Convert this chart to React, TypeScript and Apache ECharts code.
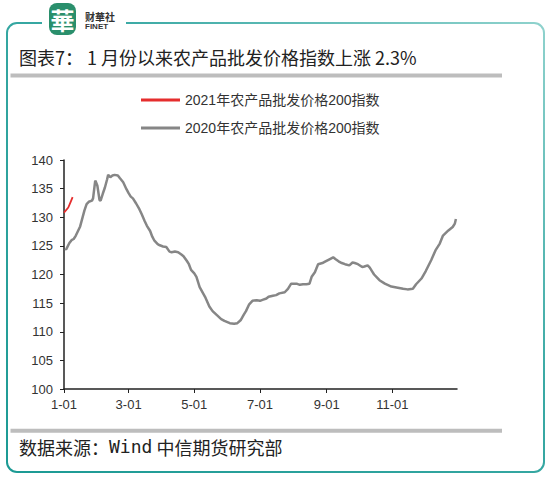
import React, { useEffect, useRef } from "react";
import * as echarts from "echarts";

const titleText = "图表7： 1 月份以来农产品批发价格指数上涨 2.3%";
const sourceLabel = "数据来源：";
const sourceWind = "Wind";
const sourceRest = " 中信期货研究部";
const seriesNames = ["2021年农产品批发价格200指数", "2020年农产品批发价格200指数"];
const xTickLabels = ["1-01", "3-01", "5-01", "7-01", "9-01", "11-01"];
const yTicks = [100, 105, 110, 115, 120, 125, 130, 135, 140];

const dates2021 = ["1-01", "1-05", "1-07", "1-09"];
const values2021 = [130.8, 131.7, 132.6, 133.5];

const dates2020 = [
  "1-02", "1-03", "1-06", "1-08", "1-10", "1-12", "1-14", "1-16", "1-18", "1-20",
  "1-22", "1-24", "1-27", "1-28", "1-30", "1-31", "2-01", "2-03", "2-04", "2-06",
  "2-08", "2-10", "2-11", "2-13", "2-15", "2-17", "2-20", "2-22", "2-25", "2-28",
  "3-01", "3-03", "3-05", "3-08", "3-11", "3-13", "3-16", "3-18", "3-21", "3-23",
  "3-25", "3-28", "3-30", "4-02", "4-05", "4-08", "4-10", "4-13", "4-16", "4-19",
  "4-21", "4-24", "4-26", "4-28", "5-01", "5-03", "5-06", "5-11", "5-15", "5-18",
  "5-22", "5-26", "5-29", "6-03", "6-07", "6-10", "6-13", "6-16", "6-18", "6-21",
  "6-24", "6-28", "7-01", "7-04", "7-07", "7-09", "7-13", "7-16", "7-19", "7-24",
  "7-27", "7-30", "8-04", "8-07", "8-10", "8-13", "8-16", "8-18", "8-21", "8-24",
  "8-28", "8-30", "9-04", "9-07", "9-09", "9-12", "9-15", "9-18", "9-22", "9-25",
  "9-27", "9-30", "10-04", "10-06", "10-09", "10-11", "10-13", "10-15", "10-18", "10-20",
  "10-25", "10-31", "11-06", "11-11", "11-15", "11-20", "11-23", "11-28", "12-02", "12-07",
  "12-11", "12-15", "12-18", "12-23", "12-27", "12-29", "12-30",
];
const values2020 = [
  124.5, 124.4, 125.5, 126.0, 126.2, 126.8, 127.6, 128.4, 129.8, 131.2,
  132.3, 132.7, 132.9, 133.3, 136.4, 136.0, 135.5, 133.0, 132.9, 134.1,
  135.2, 136.6, 137.4, 137.0, 137.3, 137.4, 137.3, 136.8, 136.1, 134.9,
  134.2, 133.6, 133.3, 132.4, 131.4, 130.6, 129.3, 128.5, 127.6, 126.6,
  125.9, 125.3, 125.1, 124.9, 124.8, 124.0, 123.9, 124.0, 123.9, 123.5,
  123.2, 122.4, 121.8, 120.8, 120.2, 119.6, 117.8, 116.1, 114.4, 113.6,
  112.9, 112.2, 111.9, 111.5, 111.4, 111.5, 112.0, 113.0, 113.6, 114.8,
  115.4, 115.5, 115.4, 115.6, 115.8, 116.1, 116.3, 116.4, 116.7, 116.9,
  117.5, 118.4, 118.4, 118.2, 118.3, 118.3, 118.4, 119.6, 120.4, 121.8,
  122.0, 122.2, 122.7, 123.0, 122.7, 122.3, 122.0, 121.8, 121.6, 122.1,
  122.0, 121.8, 121.3, 121.4, 121.6, 121.2, 120.6, 120.0, 119.4, 119.0,
  118.4, 117.9, 117.7, 117.5, 117.4, 117.5, 118.3, 119.3, 120.6, 122.5,
  124.2, 125.4, 126.8, 127.7, 128.3, 128.9, 129.7,
];

const monthLengths = [31, 29, 31, 30, 31, 30, 31, 31, 30, 31, 30, 31];

export default function App() {
  const ref = useRef<HTMLDivElement>(null);
  useEffect(() => {
    if (!ref.current) return;
    const chart = echarts.init(ref.current, undefined, { renderer: "svg" });
    const categories: string[] = [];
    monthLengths.forEach((n, i) => {
      for (let d = 1; d <= n; d++) categories.push(`${i + 1}-${String(d).padStart(2, "0")}`);
    });
    const showTick = (_i: number, v: string) => xTickLabels.includes(v);
    const cjk = '"Noto Sans CJK SC", sans-serif';
    const latin = '"Liberation Sans", "Noto Sans CJK SC", sans-serif';

    chart.setOption({
      animation: false,
      backgroundColor: "#ffffff",
      legend: {
        orient: "vertical",
        left: 141,
        top: 93,
        padding: 0,
        itemWidth: 39,
        itemHeight: 3,
        itemGap: 14,
        icon: "rect",
        data: seriesNames,
        textStyle: { fontSize: 14, color: "#333", fontFamily: latin },
      },
      grid: { left: 64, right: 97, top: 160, bottom: 89 },
      xAxis: {
        type: "category",
        data: categories,
        boundaryGap: false,
        axisLine: { lineStyle: { color: "#222", width: 1.5 } },
        axisTick: { interval: showTick, length: 4, lineStyle: { color: "#222" } },
        axisLabel: {
          interval: showTick,
          margin: 9,
          fontSize: 13,
          color: "#333",
          fontFamily: latin,
        },
        splitLine: { show: false },
      },
      yAxis: {
        type: "value",
        min: yTicks[0],
        max: yTicks[yTicks.length - 1],
        interval: 5,
        axisLine: { show: true, lineStyle: { color: "#222", width: 1.5 } },
        axisTick: { show: true, length: 4, lineStyle: { color: "#222" } },
        axisLabel: { margin: 11, fontSize: 13, color: "#333", fontFamily: latin },
        splitLine: { show: false },
      },
      series: [
        {
          name: seriesNames[0],
          type: "line",
          data: dates2021.map((d, i) => [d, values2021[i]]),
          showSymbol: false,
          symbol: "none",
          lineStyle: { color: "#e52d2d", width: 1.8 },
          itemStyle: { color: "#e52d2d" },
          z: 3,
        },
        {
          name: seriesNames[1],
          type: "line",
          data: dates2020.map((d, i) => [d, values2020[i]]),
          showSymbol: false,
          symbol: "none",
          lineStyle: { color: "#868686", width: 2.5 },
          itemStyle: { color: "#868686" },
        },
      ],
      graphic: [
        {
          type: "rect",
          shape: { x: 7, y: 23, width: 537, height: 449, r: 10 },
          style: {
            fill: "none",
            stroke: new echarts.graphic.LinearGradient(0, 1, 1, 0, [
              { offset: 0, color: "#1c9a94" },
              { offset: 0.6, color: "#3aa9a4" },
              { offset: 1, color: "#8fd2cd" },
            ]),
            lineWidth: 2,
          },
          z: 1,
        },
        { type: "rect", shape: { x: 42, y: 15, width: 84, height: 14 }, style: { fill: "#ffffff" }, z: 2 },
        {
          type: "rect",
          shape: { x: 49, y: 3, width: 27, height: 32, r: 8 },
          style: { fill: "#2a8f6c" },
          z: 3,
        },
        {
          type: "text",
          x: 62.5,
          y: 19,
          style: {
            text: "華",
            fill: "#ffffff",
            font: 'bold 24px "Noto Sans CJK SC", serif',
            align: "center",
            verticalAlign: "middle",
          },
          z: 4,
        },
        {
          type: "text",
          x: 85,
          y: 16,
          style: { text: "财華社", fill: "#333", font: 'bold 10px "Noto Sans CJK SC"', verticalAlign: "middle" },
          z: 4,
        },
        {
          type: "text",
          x: 85,
          y: 26.5,
          style: { text: "FINET", fill: "#333", font: 'bold 8px "Liberation Sans"', verticalAlign: "middle" },
          z: 4,
        },
        {
          type: "text",
          x: 19,
          y: 56.5,
          style: { text: titleText, fill: "#222", font: `18px ${cjk}`, verticalAlign: "middle" },
        },
        { type: "rect", shape: { x: 10.5, y: 73.5, width: 491.5, height: 4 }, style: { fill: "#bdbdbd" } },
        { type: "rect", shape: { x: 10.5, y: 428.7, width: 491.5, height: 4 }, style: { fill: "#bdbdbd" } },
        {
          type: "text",
          x: 19,
          y: 446.5,
          style: {
            text: `{a|${sourceLabel}}{b|${sourceWind}}{a|${sourceRest}}`,
            verticalAlign: "middle",
            rich: {
              a: { fill: "#222", font: `18px ${cjk}` },
              b: { fill: "#222", font: '18px "DejaVu Sans Mono", monospace' },
            },
          },
        },
      ],
    });
    return () => chart.dispose();
  }, []);
  return (
    <div
      ref={ref}
      style={{ position: "fixed", left: 0, top: 0, width: 554, height: 478 }}
    />
  );
}
